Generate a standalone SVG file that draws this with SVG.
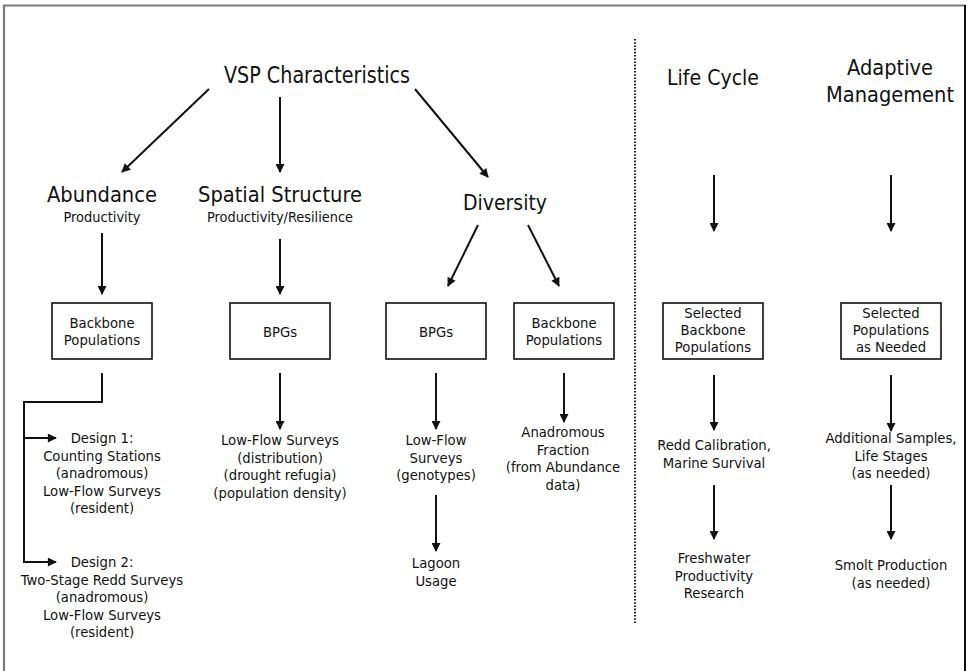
<svg xmlns="http://www.w3.org/2000/svg" width="967" height="671" viewBox="0 0 967 671">
<defs>
<style>
text{font-family:"DejaVu Sans Condensed","DejaVu Sans",sans-serif;font-stretch:condensed;fill:#111;text-anchor:middle}
.t{font-size:22.5px}
.h{font-size:22px}
.b{font-size:14.7px}
.box{fill:#fff;stroke:#111;stroke-width:1.6}
.ln{fill:none;stroke:#111;stroke-width:2}
.arr{fill:none;stroke:#111;stroke-width:2;marker-end:url(#ah)}
</style>
<marker id="ah" viewBox="0 0 10 10" refX="9" refY="5" markerWidth="10" markerHeight="9" markerUnits="userSpaceOnUse" orient="auto">
<path d="M0,0 L10,5 L0,10 z" fill="#111"/>
</marker>
</defs>
<rect width="967" height="671" fill="#fff"/>
<g id="frame">
<path d="M4,671 V5.5 H965" fill="none" stroke="#7a7a7a" stroke-width="2.2"/>
<path d="M965,5 V671" fill="none" stroke="#111" stroke-width="2"/>
<line x1="635" y1="39" x2="635" y2="623" stroke="#222" stroke-width="2" stroke-dasharray="1.6 1.6"/>
</g>
<g id="vsp"><text class="t" x="317" y="83" textLength="186" lengthAdjust="spacingAndGlyphs">VSP Characteristics</text></g>
<g id="abundance"><text class="h" x="102" y="202" textLength="110" lengthAdjust="spacingAndGlyphs">Abundance</text><text class="b" x="102" y="222" textLength="77" lengthAdjust="spacingAndGlyphs">Productivity</text></g>
<g id="spatial"><text class="h" x="280" y="202" textLength="164" lengthAdjust="spacingAndGlyphs">Spatial Structure</text><text class="b" x="280" y="222" textLength="146" lengthAdjust="spacingAndGlyphs">Productivity/Resilience</text></g>
<g id="diversity"><text class="h" x="505" y="210" textLength="84" lengthAdjust="spacingAndGlyphs">Diversity</text></g>
<g id="lifecycle"><text class="h" x="713" y="85" textLength="92" lengthAdjust="spacingAndGlyphs">Life Cycle</text></g>
<g id="adaptive"><text class="h" x="890" y="75" textLength="86" lengthAdjust="spacingAndGlyphs">Adaptive</text><text class="h" x="890" y="102" textLength="128" lengthAdjust="spacingAndGlyphs">Management</text></g>

<g id="box-abundance"><rect class="box" x="52" y="303" width="100" height="56"/><text class="b" x="102" y="328">Backbone</text><text class="b" x="102" y="345">Populations</text></g>
<g id="box-spatial"><rect class="box" x="230" y="303" width="100" height="56"/><text class="b" x="280" y="337">BPGs</text></g>
<g id="box-div-bpgs"><rect class="box" x="386" y="303" width="100" height="56"/><text class="b" x="436" y="337">BPGs</text></g>
<g id="box-div-backbone"><rect class="box" x="514" y="303" width="100" height="56"/><text class="b" x="564" y="328">Backbone</text><text class="b" x="564" y="345">Populations</text></g>
<g id="box-lifecycle"><rect class="box" x="663" y="303" width="100" height="56"/><text class="b" x="713" y="318">Selected</text><text class="b" x="713" y="335">Backbone</text><text class="b" x="713" y="352">Populations</text></g>
<g id="box-adaptive"><rect class="box" x="841" y="303" width="100" height="56"/><text class="b" x="891" y="318">Selected</text><text class="b" x="891" y="335">Populations</text><text class="b" x="891" y="352">as Needed</text></g>

<g id="design1"><text class="b" x="102" y="443">Design 1:</text><text class="b" x="102" y="460.5">Counting Stations</text><text class="b" x="102" y="478">(anadromous)</text><text class="b" x="102" y="495.5">Low-Flow Surveys</text><text class="b" x="102" y="513">(resident)</text></g>
<g id="design2"><text class="b" x="102" y="567">Design 2:</text><text class="b" x="102" y="584.5">Two-Stage Redd Surveys</text><text class="b" x="102" y="602">(anadromous)</text><text class="b" x="102" y="619.5">Low-Flow Surveys</text><text class="b" x="102" y="637">(resident)</text></g>
<g id="spatial-lowflow"><text class="b" x="280" y="445">Low-Flow Surveys</text><text class="b" x="280" y="462.5">(distribution)</text><text class="b" x="280" y="480">(drought refugia)</text><text class="b" x="280" y="497.5">(population density)</text></g>
<g id="div-lowflow"><text class="b" x="436" y="445">Low-Flow</text><text class="b" x="436" y="462.5">Surveys</text><text class="b" x="436" y="480">(genotypes)</text></g>
<g id="lagoon"><text class="b" x="436" y="568">Lagoon</text><text class="b" x="436" y="585.5">Usage</text></g>
<g id="anadromous"><text class="b" x="563" y="437">Anadromous</text><text class="b" x="563" y="454.5">Fraction</text><text class="b" x="563" y="472">(from Abundance</text><text class="b" x="563" y="489.5">data)</text></g>
<g id="redd"><text class="b" x="714" y="450">Redd Calibration,</text><text class="b" x="714" y="467.5">Marine Survival</text></g>
<g id="freshwater"><text class="b" x="714" y="563">Freshwater</text><text class="b" x="714" y="580.5">Productivity</text><text class="b" x="714" y="598">Research</text></g>
<g id="additional"><text class="b" x="891" y="443">Additional Samples,</text><text class="b" x="891" y="460.5">Life Stages</text><text class="b" x="891" y="478">(as needed)</text></g>
<g id="smolt"><text class="b" x="891" y="570">Smolt Production</text><text class="b" x="891" y="587.5">(as needed)</text></g>

<g id="connectors">
<line class="arr" x1="209" y1="89" x2="122" y2="172"/>
<line class="arr" x1="280" y1="97" x2="280" y2="172"/>
<line class="arr" x1="415" y1="89" x2="488" y2="177"/>
<line class="arr" x1="102" y1="233" x2="102" y2="294"/>
<line class="arr" x1="280" y1="239" x2="280" y2="294"/>
<line class="arr" x1="478" y1="225" x2="448" y2="286"/>
<line class="arr" x1="528" y1="225" x2="559" y2="286"/>
<line class="arr" x1="714" y1="175" x2="714" y2="231"/>
<line class="arr" x1="891" y1="175" x2="891" y2="231"/>
<path class="ln" d="M102,373 V402 H24 V562"/>
<line class="arr" x1="23" y1="438" x2="56" y2="438"/>
<line class="arr" x1="23" y1="562" x2="56" y2="562"/>
<line class="arr" x1="280" y1="373" x2="280" y2="429"/>
<line class="arr" x1="436" y1="373" x2="436" y2="429"/>
<line class="arr" x1="436" y1="495" x2="436" y2="551"/>
<line class="arr" x1="564" y1="373" x2="564" y2="422"/>
<line class="arr" x1="714" y1="375" x2="714" y2="430"/>
<line class="arr" x1="714" y1="485" x2="714" y2="539"/>
<line class="arr" x1="891" y1="375" x2="891" y2="431"/>
<line class="arr" x1="891" y1="485" x2="891" y2="539"/>
</g>
</svg>
